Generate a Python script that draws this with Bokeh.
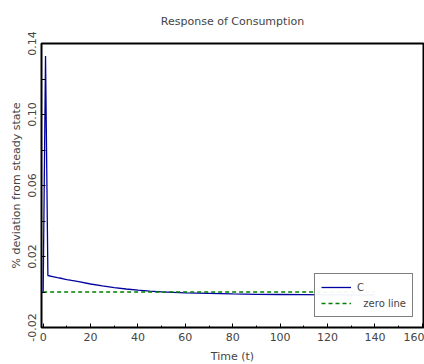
from bokeh.plotting import figure
from bokeh.models import Range1d, LinearAxis, FixedTicker, Legend, LegendItem
from bokeh.embed import file_html
from bokeh.resources import INLINE

# data
t = [0, 1, 2, 4, 6, 8, 10, 12, 15, 20, 25, 30, 35, 40, 45, 50, 55, 60,
     70, 80, 90, 100, 110, 120, 130, 140]
c = [0.0, 0.133, 0.0093, 0.0087, 0.0081, 0.0076, 0.0070, 0.0065, 0.0058,
     0.0045, 0.0034, 0.0025, 0.0017, 0.0010, 0.0005, 0.0001, -0.0002,
     -0.0005, -0.0008, -0.0011, -0.0013, -0.0014, -0.0015, -0.0016,
     -0.0017, -0.0017]
zero_t = [0, 140]
zero_v = [0.0, 0.0]

x_ticks = [0, 20, 40, 60, 80, 100, 120, 140, 160]
x_minor = [10, 30, 50, 70, 90, 110, 130, 150]
y_ticks = [-0.02, 0.0, 0.02, 0.04, 0.06, 0.08, 0.10, 0.12, 0.14]
y_labels = {-0.02: "-0.02", 0.0: "", 0.02: "0.02", 0.04: "", 0.06: "0.06",
            0.08: "", 0.10: "0.10", 0.12: "", 0.14: "0.14"}
title_text = "Response of Consumption"

FONT = "DejaVu Sans"
FS = "11px"

p = figure(frame_width=382, frame_height=284, output_backend="svg",
           toolbar_location=None,
           x_range=Range1d(-0.7, 160.5), y_range=Range1d(-0.02, 0.14),
           min_border_left=41, min_border_right=1, min_border_top=43,
           min_border_bottom=37, x_axis_location=None, y_axis_location=None)
p.xgrid.visible = False
p.ygrid.visible = False
p.outline_line_color = "black"
p.outline_line_width = 2
p.background_fill_color = "white"
p.border_fill_color = "white"

p.title.text = title_text
p.title.align = "center"
p.title.vertical_align = "top"
p.title.text_font = FONT
p.title.text_font_size = FS
p.title.text_font_style = "normal"
p.title.standoff = 27


def style(ax, labels=True):
    ax.axis_line_color = None
    ax.major_tick_in = 4
    ax.major_tick_out = 0
    ax.minor_tick_in = 2
    ax.minor_tick_out = 0
    ax.major_tick_line_color = "black"
    ax.minor_tick_line_color = "black"
    ax.major_label_text_font = FONT
    ax.major_label_text_font_size = FS if labels else "0px"
    ax.axis_label_text_font = FONT
    ax.axis_label_text_font_size = FS
    ax.axis_label_text_font_style = "normal"


xb = LinearAxis(ticker=FixedTicker(ticks=x_ticks, minor_ticks=x_minor),
                axis_label="Time (t)")
style(xb)
xb.major_label_standoff = 5
xb.axis_label_standoff = 6
p.add_layout(xb, "below")

yl = LinearAxis(ticker=FixedTicker(ticks=y_ticks),
                axis_label="% deviation from steady state")
style(yl)
yl.major_label_orientation = "vertical"
yl.major_label_overrides = y_labels
yl.major_label_standoff = 6
yl.axis_label_standoff = 2
p.add_layout(yl, "left")

l1 = p.line(t, c, line_color="#0000a0", line_width=1.3)
l2 = p.line(zero_t, zero_v, line_color="#008000", line_width=1.3,
            line_dash="4 3")

legend = Legend(items=[LegendItem(label="C", renderers=[l1]),
                       LegendItem(label="  zero line", renderers=[l2])],
                location="bottom_right")
legend.label_text_font = FONT
legend.label_text_font_size = "10px"
legend.border_line_color = "black"
legend.border_line_width = 1
legend.glyph_width = 30
legend.glyph_height = 14
legend.spacing = 2
legend.padding = 6
legend.margin = 10
legend.label_standoff = 6
legend.label_height = 14
p.add_layout(legend)

open("out.html", "w").write(file_html(p, INLINE))
